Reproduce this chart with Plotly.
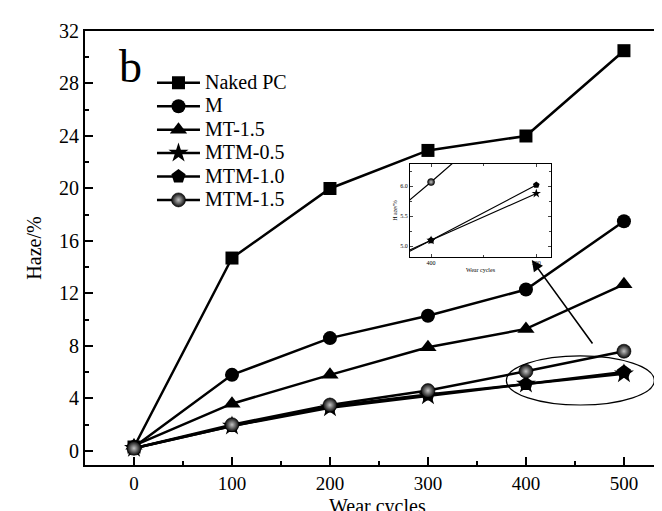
import plotly.graph_objects as go

cycles = [0, 100, 200, 300, 400, 500]
naked_pc = [0.3, 14.7, 20.0, 22.9, 24.0, 30.5]
m_vals = [0.3, 5.8, 8.6, 10.3, 12.3, 17.5]
mt15 = [0.4, 3.6, 5.8, 7.9, 9.3, 12.7]
mtm05 = [0.2, 1.9, 3.3, 4.2, 5.1, 5.88]
mtm10 = [0.2, 1.9, 3.4, 4.3, 5.1, 6.02]
mtm15 = [0.2, 2.0, 3.5, 4.6, 6.07, 7.6]

series = [
    ("Naked PC", naked_pc, "square", 13),
    ("M", m_vals, "circle", 14),
    ("MT-1.5", mt15, "triangle-up", 15),
    ("MTM-0.5", mtm05, "star", 15),
    ("MTM-1.0", mtm10, "pentagon", 15),
    ("MTM-1.5", mtm15, "circle", 14),
]

FONT = "Liberation Serif"
fig = go.Figure()

def sphere(size):
    return dict(symbol="circle", size=size, color="#0a0a0a",
                gradient=dict(type="radial", color="#c4c4c4"),
                line=dict(width=0.6, color="black"))

for name, vals, sym, size in series:
    marker = dict(symbol=sym, size=size, color="black", line=dict(width=0))
    if name == "MTM-1.5":
        marker = sphere(size)
    fig.add_trace(go.Scatter(x=cycles, y=vals,
                             name='<span style="font-size:20px">%s</span>' % name,
                             mode="lines+markers",
                             line=dict(color="black", width=2.5), marker=marker,
                             xaxis="x", yaxis="y", cliponaxis=False))

# inset traces (zoom of the circled region)
for name, vals, sym, size in series[3:]:
    marker = dict(symbol=sym, size=7, color="black", line=dict(width=0))
    if name == "MTM-1.5":
        marker = sphere(7)
    fig.add_trace(go.Scatter(x=cycles, y=vals, name=name, mode="lines+markers",
                             line=dict(color="black", width=1.2), marker=marker,
                             xaxis="x2", yaxis="y2", showlegend=False, cliponaxis=True))

fig.add_shape(type="circle", xref="x", yref="y", x0=380, x1=531, y0=3.5, y1=7.24,
              line=dict(color="black", width=1.2))

fig.add_annotation(x=406, y=14.55, ax=469, ay=8.08, xref="x", yref="y",
                   axref="x", ayref="y", showarrow=True, arrowhead=2, arrowsize=1.4,
                   arrowwidth=1.6, arrowcolor="black", text="")

fig.add_annotation(x=0.077, y=0.918, xref="paper", yref="paper", text="b", showarrow=False,
                   xanchor="center", yanchor="middle",
                   font=dict(family=FONT, size=46, color="black"))

# x-axis title (placed as annotation so it sits just above the bottom edge)
fig.add_annotation(x=0.5, y=-0.064, xref="paper", yref="paper", text="Wear cycles",
                   showarrow=False, xanchor="center", yanchor="top",
                   font=dict(family=FONT, size=20, color="black"))

fig.update_layout(
    width=662, height=511, autosize=False,
    margin=dict(l=77, r=0, t=23, b=54),
    paper_bgcolor="white", plot_bgcolor="white",
    font=dict(family=FONT, color="black"),
    showlegend=True,
    legend=dict(x=0.1145, y=0.919, xanchor="left", yanchor="top",
                bgcolor="rgba(0,0,0,0)", font=dict(family=FONT, size=15.7),
                tracegroupgap=0, itemwidth=43, borderwidth=0),
    xaxis=dict(range=[-50, 547], domain=[0, 1], tickvals=[0, 100, 200, 300, 400, 500],
               ticks="inside", ticklen=8, tickwidth=1.5, tickcolor="black",
               minor=dict(tickvals=[50, 150, 250, 350, 450], ticks="inside", ticklen=4,
                          tickwidth=1.5, tickcolor="black"),
               showline=True, linewidth=2, linecolor="black", mirror=True,
               showgrid=False, zeroline=False,
               tickfont=dict(family=FONT, size=19)),
    yaxis=dict(range=[-1.07, 32], domain=[0, 1], tickvals=[0, 4, 8, 12, 16, 20, 24, 28, 32],
               ticks="inside", ticklen=8, tickwidth=1.5, tickcolor="black",
               minor=dict(tickvals=[2, 6, 10, 14, 18, 22, 26, 30], ticks="inside", ticklen=4,
                          tickwidth=1.5, tickcolor="black"),
               showline=True, linewidth=2, linecolor="black", mirror=False,
               showgrid=False, zeroline=False,
               tickfont=dict(family=FONT, size=20),
               title=dict(text="Haze/%", font=dict(family=FONT, size=20), standoff=12)),
    xaxis2=dict(range=[380, 514], domain=[0.5556, 0.7966], anchor="y2",
                tickvals=[400, 500], ticks="inside", ticklen=3, tickwidth=0.8,
                minor=dict(tickvals=[450], ticks="inside", ticklen=2, tickwidth=0.8),
                showline=True, linewidth=1, linecolor="black", mirror="ticks",
                showgrid=False, zeroline=False, tickfont=dict(family=FONT, size=6),
                title=dict(text="Wear cycles", font=dict(family=FONT, size=6), standoff=2)),
    yaxis2=dict(range=[4.82, 6.37], domain=[0.479, 0.6935], anchor="x2",
                tickvals=[5.0, 5.5, 6.0], tickformat=".1f", ticks="inside", ticklen=3,
                tickwidth=0.8,
                minor=dict(tickvals=[5.25, 5.75, 6.25], ticks="inside", ticklen=2, tickwidth=0.8),
                showline=True, linewidth=1, linecolor="black", mirror="ticks",
                showgrid=False, zeroline=False, tickfont=dict(family=FONT, size=6),
                title=dict(text="H aze/%", font=dict(family=FONT, size=6), standoff=2)),
)

fig.write_html("out.html")
